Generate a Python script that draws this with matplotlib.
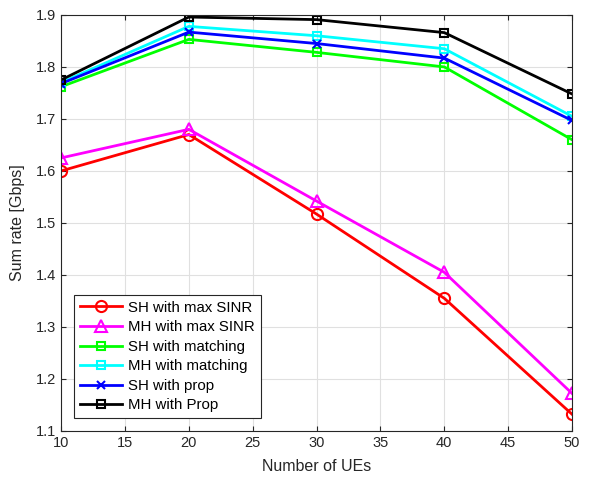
import numpy as np
import matplotlib
matplotlib.use("Agg")
import matplotlib.pyplot as plt

plt.rcParams["font.family"] = ["Liberation Sans", "DejaVu Sans"]

ues = [10, 20, 30, 40, 50]
sh_max_sinr = [1.600, 1.670, 1.517, 1.355, 1.132]
mh_max_sinr = [1.625, 1.680, 1.542, 1.405, 1.172]
sh_matching = [1.762, 1.853, 1.828, 1.800, 1.660]
mh_matching = [1.770, 1.878, 1.860, 1.835, 1.705]
sh_prop = [1.768, 1.867, 1.845, 1.817, 1.697]
mh_prop = [1.775, 1.896, 1.891, 1.866, 1.748]

series = [
    ("SH with max SINR", sh_max_sinr, "red", "o", 8),
    ("MH with max SINR", mh_max_sinr, "magenta", "^", 9),
    ("SH with matching", sh_matching, "#00ff00", "s", 6),
    ("MH with matching", mh_matching, "cyan", "s", 6),
    ("SH with prop", sh_prop, "blue", "x", 6),
    ("MH with Prop", mh_prop, "black", "s", 6),
]

fig = plt.figure(figsize=(5.99, 4.82), dpi=100)
ax = fig.add_axes([0.102, 0.106, 0.853, 0.863])
for label, vals, color, marker, ms in series:
    ax.plot(ues, vals, color=color, marker=marker, markersize=ms,
            markerfacecolor="none", markeredgewidth=1.5, linewidth=2, label=label)

ax.set_xlim(10, 50)
ax.set_ylim(1.1, 1.9)
ax.set_xticks(np.arange(10, 51, 5))
ax.set_yticks(np.arange(1.1, 1.91, 0.1))
ax.set_yticklabels([f"{v:.1f}" for v in np.arange(1.1, 1.91, 0.1)])
ax.grid(True, color="#e0e0e0", linewidth=0.8)
ax.set_axisbelow(True)
ax.tick_params(direction="in", top=True, right=True, labelsize=10.5, colors="#262626")
for s in ax.spines.values():
    s.set_color("#262626")
ax.set_xlabel("Number of UEs", fontsize=11.5, color="#262626", labelpad=7)
ax.set_ylabel("Sum rate [Gbps]", fontsize=11.5, color="#262626", labelpad=8)
leg = ax.legend(loc="lower left", bbox_to_anchor=(0.025, 0.03), fontsize=10.8,
                fancybox=False, edgecolor="#262626", framealpha=1,
                handlelength=2.8, borderpad=0.4, labelspacing=0.37, handletextpad=0.4,
                borderaxespad=0)
leg.get_frame().set_linewidth(0.8)

fig.savefig("out.png", dpi=100)
